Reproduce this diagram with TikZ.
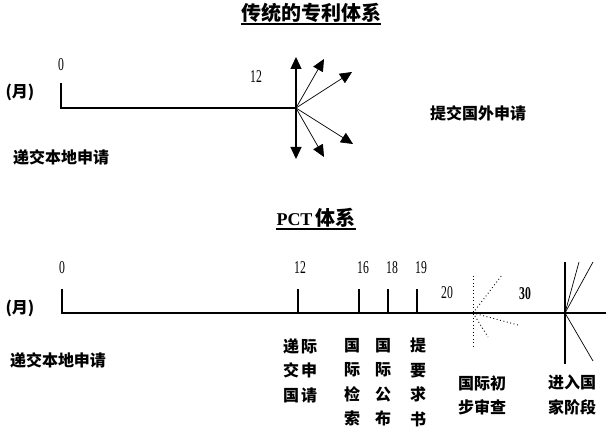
\documentclass[tikz,border=0pt]{standalone}
\usepackage{fontspec}
\setmainfont{Liberation Serif}
\newfontfamily\cjk{Noto Sans CJK SC}
\newfontfamily\numfont{Liberation Serif}[FakeStretch=0.65]
\usetikzlibrary{arrows.meta}

\begin{document}
\begin{tikzpicture}[x=1pt,y=-1pt]
\tikzstyle{every node}+=[inner sep=0pt]
\tikzstyle{zh}=[font=\cjk\bfseries\fontsize{16}{24.5}\selectfont, align=center]
\tikzstyle{num}=[font=\numfont\fontsize{18}{18}\selectfont]
\tikzstyle{axis}=[line width=1.2pt]
\tikzstyle{ray}=[line width=0.7pt]
\tikzstyle{tip}=[-{Triangle[length=12pt,width=11pt]}]
\tikzstyle{dots}=[line width=0.9pt, dash pattern=on 0.9pt off 2.6pt]
\useasboundingbox (0,0) rectangle (611,430);
% traditional system
\draw (311,13) node [zh, font=\cjk\bfseries\fontsize{20}{20}\selectfont] (title1) {传统的专利体系};
\draw [line width=1.5pt] ([yshift=-1pt]title1.south west) -- ([yshift=-1pt]title1.south east);
\draw (20,92) node [zh] (month1) {(月)};
\draw (61,65) node [num] (zero1) {0};
\draw (256,77) node [num] (twelve1) {12};
\draw (61,157) node [zh] (local1) {递交本地申请};
\draw (478,113) node [zh] (foreign) {提交国外申请};
\coordinate (t0) at (61,83);
\coordinate (o1) at (61,108);
\coordinate (fan) at (296,108);
\draw [axis] (t0) -- (o1) -- (fan);
\coordinate (up) at (296,57);
\coordinate (down) at (296,159);
\coordinate (r1) at (324,59);
\coordinate (r2) at (352,72);
\coordinate (r3) at (353,144);
\coordinate (r4) at (324,157);
\draw [axis, tip] (fan) -- (up);
\draw [axis, tip] (fan) -- (down);
\draw [ray, tip] (fan) -- (r1);
\draw [ray, tip] (fan) -- (r2);
\draw [ray, tip] (fan) -- (r3);
\draw [ray, tip] (fan) -- (r4);
% PCT system
\draw (316,218) node [font=\bfseries\fontsize{18}{18}\selectfont] (title2) {PCT\,{\cjk\fontsize{20}{20}\selectfont 体系}};
\draw [line width=1.5pt] ([yshift=-1pt]title2.south west) -- ([yshift=-1pt]title2.south east);
\draw (20,308) node [zh] (month2) {(月)};
\draw (58,360) node [zh] (local2) {递交本地申请};
\draw (62,268) node [num] (zero2) {0};
\draw (300,268) node [num] (m12) {12};
\draw (363,268) node [num] (m16) {16};
\draw (392,268) node [num] (m18) {18};
\draw (421,268) node [num] (m19) {19};
\draw (447,293) node [num] (m20) {20};
\draw (525,294) node [num, font=\numfont\bfseries\fontsize{18}{18}\selectfont] (m30) {30};
\coordinate (b0) at (62,289);
\coordinate (o2) at (62,313);
\coordinate (end) at (606,313);
\draw [axis] (b0) -- (o2) -- (end);
\foreach \name/\x in {k12/298, k16/359, k18/388, k19/417} {
  \coordinate (\name) at (\x,313);
  \draw [axis] (\name) -- ++(0,-24);
}
\draw (300,338) node [zh, anchor=north] (filing) {递\hspace{2pt}际\\交\hspace{2pt}申\\国\hspace{2pt}请};
\draw (352,338) node [zh, anchor=north] (search) {国\\际\\检\\索};
\draw (383,338) node [zh, anchor=north] (publish) {国\\际\\公\\布};
\draw (418,338) node [zh, anchor=north] (demand) {提\\要\\求\\书};
\draw (482,375) node [zh, anchor=north] (exam) {国际初\\步审查};
\draw (572,375) node [zh, anchor=north] (national) {进入国\\家阶段};
% international preliminary examination
\coordinate (ipe) at (473,313);
\coordinate (ipeup) at (473,276);
\coordinate (ipedown) at (473,347);
\coordinate (ipe1) at (502,275);
\coordinate (ipe2) at (518,325);
\coordinate (ipe3) at (488,337);
\draw [dots] (ipeup) -- (ipedown);
\draw [dots] (ipe) -- (ipe1);
\draw [dots] (ipe) -- (ipe2);
\draw [dots] (ipe) -- (ipe3);
% national phase
\coordinate (nat) at (565,313);
\coordinate (natup) at (565,262);
\coordinate (natdown) at (565,364);
\coordinate (n1) at (579,262);
\coordinate (n2) at (593,262);
\coordinate (n3) at (593,361);
\draw [axis] (natup) -- (natdown);
\draw [ray] (nat) -- (n1);
\draw [ray] (nat) -- (n2);
\draw [ray] (nat) -- (n3);
\end{tikzpicture}
\end{document}
